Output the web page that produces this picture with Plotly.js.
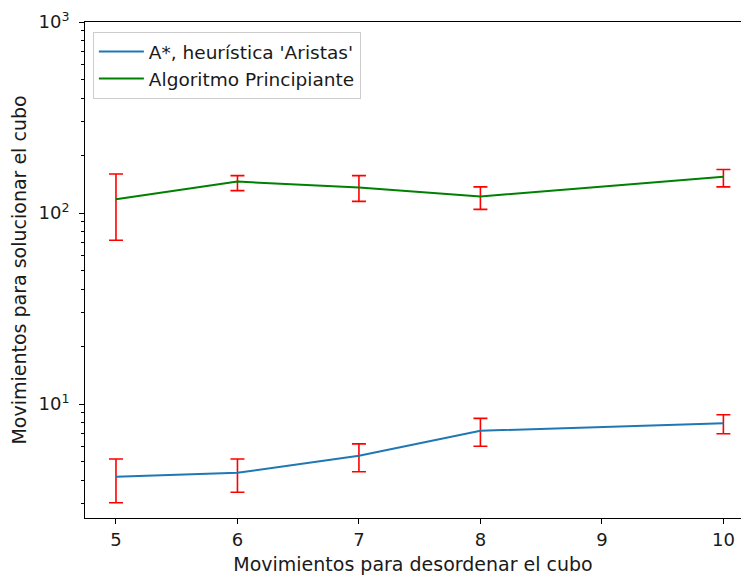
<!DOCTYPE html>
<html>
<head>
<meta charset="utf-8">
<script src="https://cdn.plot.ly/plotly-3.0.1.min.js"></script>
<style>html,body{margin:0;padding:0;background:#fff;}#chart{width:741px;height:577px;}</style>
</head>
<body>
<div id="chart"></div>
<script>
const moves = [5, 6, 7, 8, 10];
const aStarMean = [4.16, 4.36, 5.36, 7.24, 7.93];
const aStarUpper = [5.15, 5.15, 6.18, 8.41, 8.79];
const aStarLower = [3.04, 3.45, 4.42, 6.01, 6.98];
const beginnerMean = [118, 146, 136, 122, 155];
const beginnerUpper = [160, 157, 157, 137, 169];
const beginnerLower = [72, 131, 115, 104.5, 137];
const yTickVals = [10, 100, 1000];
const yTickText = ['10<sup>1</sup>', '10<sup>2</sup>', '10<sup>3</sup>'];
const xTickVals = [5, 6, 7, 8, 9, 10];

const minorVals = [];
[1, 10, 100].forEach(d => { for (let k = 2; k <= 9; k++) minorVals.push(k * d); });

function errs(mean, up, lo) {
  return {
    type: 'data', symmetric: false,
    array: mean.map((m, i) => up[i] - m),
    arrayminus: mean.map((m, i) => m - lo[i]),
    color: 'red', thickness: 1.6, width: 7
  };
}

const traces = [
  {x: moves, y: aStarMean, type: 'scatter', mode: 'lines', name: "A*, heurística 'Aristas'",
   line: {color: '#1f77b4', width: 2}, error_y: errs(aStarMean, aStarUpper, aStarLower)},
  {x: moves, y: beginnerMean, type: 'scatter', mode: 'lines', name: 'Algoritmo Principiante',
   line: {color: '#008000', width: 2}, error_y: errs(beginnerMean, beginnerUpper, beginnerLower)}
];

const layout = {
  width: 741, height: 577,
  margin: {l: 85, r: 0, t: 22, b: 59},
  paper_bgcolor: '#fff', plot_bgcolor: '#fff',
  font: {family: 'DejaVu Sans', color: '#000', size: 18},
  showlegend: true,
  legend: {x: 0.012, y: 0.98, xanchor: 'left', yanchor: 'top', bgcolor: 'rgba(255,255,255,0.8)',
           bordercolor: '#cccccc', borderwidth: 1, tracegroupgap: 0, itemwidth: 45,
           font: {size: 18.5, family: 'DejaVu Sans', color: '#1a1a1a'}},
  xaxis: {range: [4.745, 10.145], tickvals: xTickVals, ticktext: xTickVals.map(String),
          showgrid: false, zeroline: false, showline: true, linecolor: '#000', linewidth: 1,
          mirror: true, ticks: 'outside', ticklen: 5, tickcolor: '#000', tickfont: {size: 18, color: '#1a1a1a'},
          title: {text: 'Movimientos para desordenar el cubo', font: {size: 19, color: '#1a1a1a'}, standoff: 9}, automargin: false},
  yaxis: {type: 'log', range: [Math.log10(2.53), 3], tickvals: yTickVals, ticktext: yTickText,
          showgrid: false, zeroline: false, showline: true, linecolor: '#000', linewidth: 1,
          ticks: 'outside', ticklen: 5, tickcolor: '#000', tickfont: {size: 18, color: '#1a1a1a'},
          ticklabelstandoff: 6,
          minor: {tickmode: 'array', tickvals: minorVals, ticks: 'outside', ticklen: 3, tickcolor: '#000', showgrid: false},
          title: {text: 'Movimientos para solucionar el cubo', font: {size: 19, color: '#1a1a1a'}, standoff: 6}, automargin: false}
};

Plotly.newPlot('chart', traces, layout, {displayModeBar: false, staticPlot: true});
</script>
</body>
</html>
